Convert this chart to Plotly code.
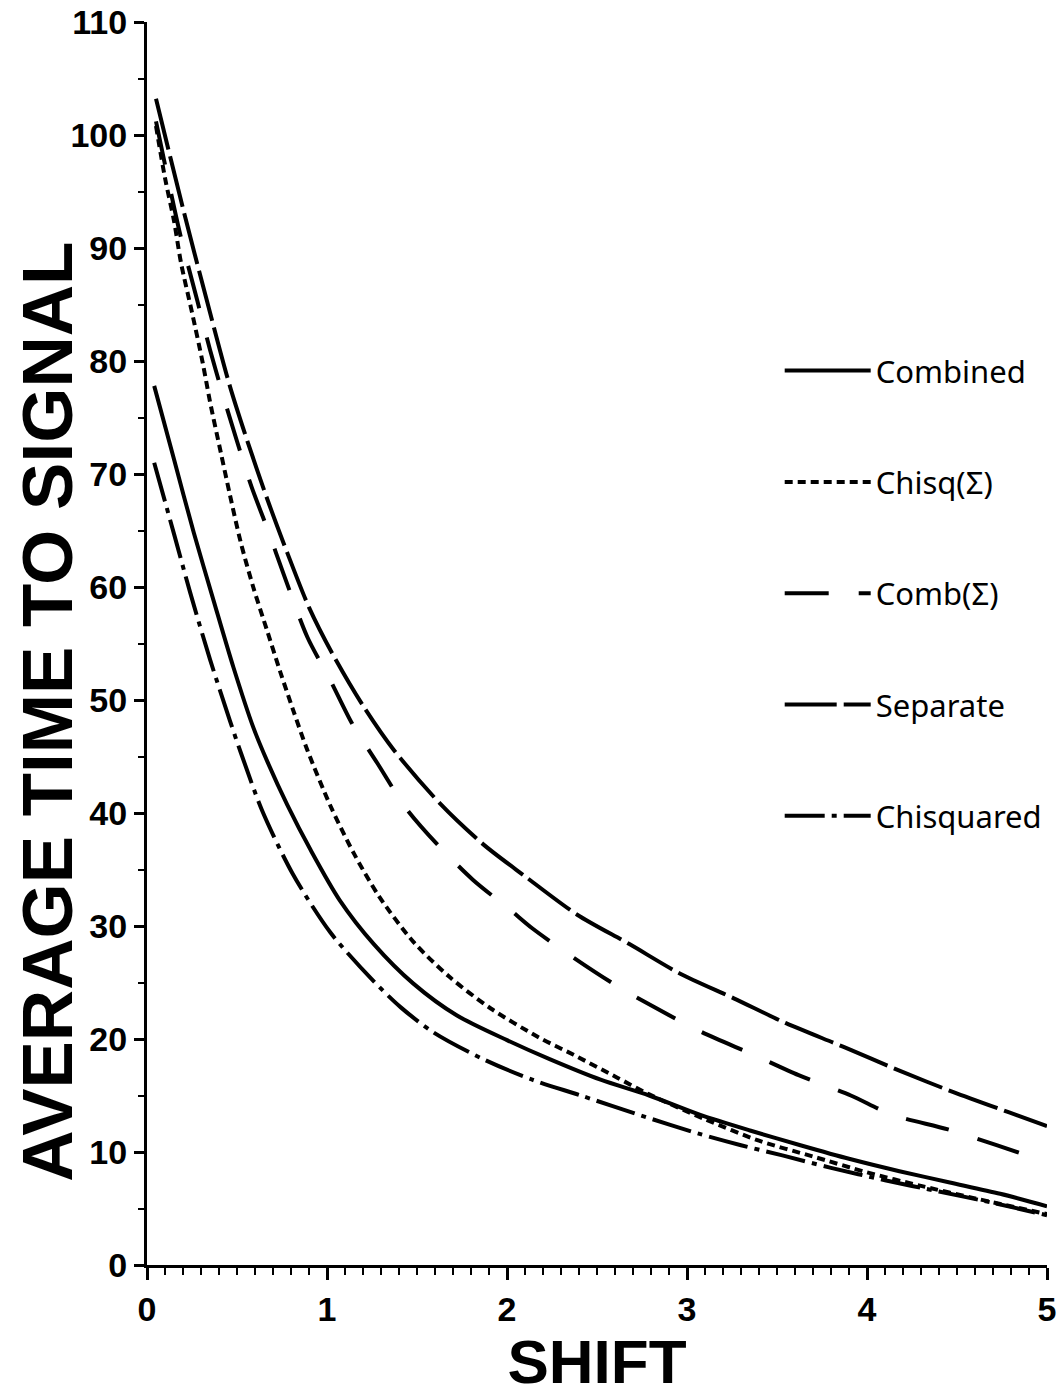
import plotly.graph_objects as go

# ---- data ----
sep_x = [0.05, 0.2, 0.33, 0.46, 0.56, 0.67, 0.78, 0.9, 1.03, 1.2, 1.37, 1.63, 1.87, 2.1, 2.39, 2.68, 2.96, 3.26, 3.55, 3.87, 4.18, 4.48, 4.79, 5.0]
sep_y = [103.2, 93.5, 85.5, 77.8, 72.8, 67.7, 63.0, 58.2, 54.1, 49.5, 45.6, 40.8, 37.2, 34.4, 31.0, 28.4, 25.8, 23.6, 21.4, 19.3, 17.2, 15.3, 13.5, 12.3]

comb_s_x = [0.05, 0.18, 0.28, 0.35, 0.42, 0.5, 0.58, 0.67, 0.76, 0.89, 1.02, 1.14, 1.28, 1.44, 1.62, 1.81, 2.02, 2.14, 2.36, 2.59, 2.82, 3.07, 3.37, 3.62, 3.91, 4.14, 4.45, 4.72, 5.0]
comb_s_y = [101.2, 91.5, 85.3, 81.0, 77.1, 72.9, 68.9, 65.1, 61.1, 55.6, 51.7, 47.9, 44.4, 40.4, 37.1, 34.1, 31.4, 29.8, 27.3, 24.9, 22.8, 20.7, 18.6, 16.8, 15.0, 13.3, 12.0, 10.6, 9.1]

chisq_s_x = [0.05, 0.1, 0.15, 0.19, 0.25, 0.31, 0.35, 0.41, 0.46, 0.52, 0.59, 0.67, 0.74, 0.81, 0.89, 1.02, 1.15, 1.29, 1.48, 1.68, 1.91, 2.17, 2.37, 2.61, 2.79, 3.1, 3.4, 3.7, 4.0, 4.3, 4.6, 5.0]
chisq_s_y = [100.8, 96.2, 92.4, 88.6, 84.3, 79.8, 76.4, 71.9, 68.2, 64.0, 60.0, 56.0, 52.5, 49.2, 45.6, 40.6, 36.4, 32.6, 28.6, 25.5, 22.7, 20.2, 18.6, 16.6, 15.1, 12.9, 11.0, 9.6, 8.2, 7.0, 5.9, 4.5]

comb_x = [0.04, 0.15, 0.26, 0.37, 0.48, 0.59, 0.67, 0.78, 0.91, 1.07, 1.26, 1.48, 1.72, 2.0, 2.24, 2.52, 2.79, 3.07, 3.35, 3.63, 3.9, 4.18, 4.46, 4.74, 5.0]
comb_y = [77.8, 71.3, 64.8, 58.8, 52.9, 47.6, 44.5, 40.7, 36.7, 32.3, 28.4, 24.9, 22.1, 19.9, 18.2, 16.4, 15.0, 13.3, 11.9, 10.6, 9.4, 8.3, 7.3, 6.3, 5.2]

chisq_x = [0.04, 0.15, 0.24, 0.35, 0.46, 0.52, 0.64, 0.81, 1.02, 1.26, 1.41, 1.59, 1.87, 2.14, 2.41, 2.75, 3.07, 3.3, 3.53, 3.8, 4.1, 4.4, 4.7, 5.0]
chisq_y = [71.0, 64.7, 59.5, 53.6, 48.2, 45.4, 40.2, 34.6, 29.4, 25.1, 22.8, 20.6, 18.2, 16.4, 15.0, 13.2, 11.6, 10.6, 9.7, 8.6, 7.5, 6.5, 5.5, 4.4]

series = [
    ("Combined", comb_x, comb_y, "solid"),
    ("Chisq(Σ)", chisq_s_x, chisq_s_y, "8px,5px"),
    ("Comb(Σ)", comb_s_x, comb_s_y, "44px,30px"),
    ("Separate", sep_x, sep_y, "52px,7px"),
    ("Chisquared", chisq_x, chisq_y, "40px,7px,5px,7px"),
]

x_ticks = [0, 1, 2, 3, 4, 5]
y_ticks = [0, 10, 20, 30, 40, 50, 60, 70, 80, 90, 100, 110]
y_title = "AVERAGE TIME TO SIGNAL"
x_title = "SHIFT"

fig = go.Figure()
for i, (name, xs, ys, dash) in enumerate(series):
    fig.add_trace(go.Scatter(
        x=xs, y=ys, mode="lines", name=name, legendgroup=f"g{i}",
        line=dict(color="black", width=4, dash=dash, shape="spline", smoothing=0.8),
    ))

tick_font = dict(family="Liberation Sans", size=34, color="black", weight="bold")
ytitle_font = dict(family="Liberation Sans", size=71, color="black", weight="bold")
xtitle_font = dict(family="Liberation Sans", size=62, color="black", weight="bold")

fig.update_layout(
    width=1063, height=1396,
    paper_bgcolor="white", plot_bgcolor="white",
    margin=dict(l=147, r=16, t=22, b=131, autoexpand=False),
    showlegend=True,
    legend=dict(
        x=0.703, y=0.741, xanchor="left", yanchor="top",
        font=dict(family="Noto Sans", size=31, color="black"),
        itemwidth=86, tracegroupgap=68, bgcolor="rgba(0,0,0,0)",
    ),
    xaxis=dict(
        range=[0, 5], tickvals=x_ticks, ticktext=[str(v) for v in x_ticks],
        showgrid=False, zeroline=False, showline=True, linecolor="black", linewidth=3,
        ticks="outside", ticklen=12, tickwidth=3, tickcolor="black",
        minor=dict(dtick=0.1, ticks="outside", ticklen=7, tickwidth=2, tickcolor="black"),
        tickfont=tick_font, automargin=False, ticklabeloverflow="allow",
        title=dict(text=x_title, font=xtitle_font, standoff=2),
    ),
    yaxis=dict(
        range=[0, 110], tickvals=y_ticks, ticktext=[str(v) for v in y_ticks],
        showgrid=False, zeroline=False, showline=True, linecolor="black", linewidth=3,
        ticks="outside", ticklen=10, tickwidth=3, tickcolor="black",
        minor=dict(dtick=5, ticks="outside", ticklen=6, tickwidth=2, tickcolor="black"),
        tickfont=tick_font, automargin=False, ticklabeloverflow="allow",
    ),
    annotations=[dict(
        text=y_title, textangle=-90, font=ytitle_font, showarrow=False,
        xref="paper", yref="paper", x=0, y=0.445, xanchor="center", yanchor="middle",
        xshift=-99,
    )],
)

fig.write_html("out.html", config={"displayModeBar": False},
               post_script="document.body.style.margin='0';")
